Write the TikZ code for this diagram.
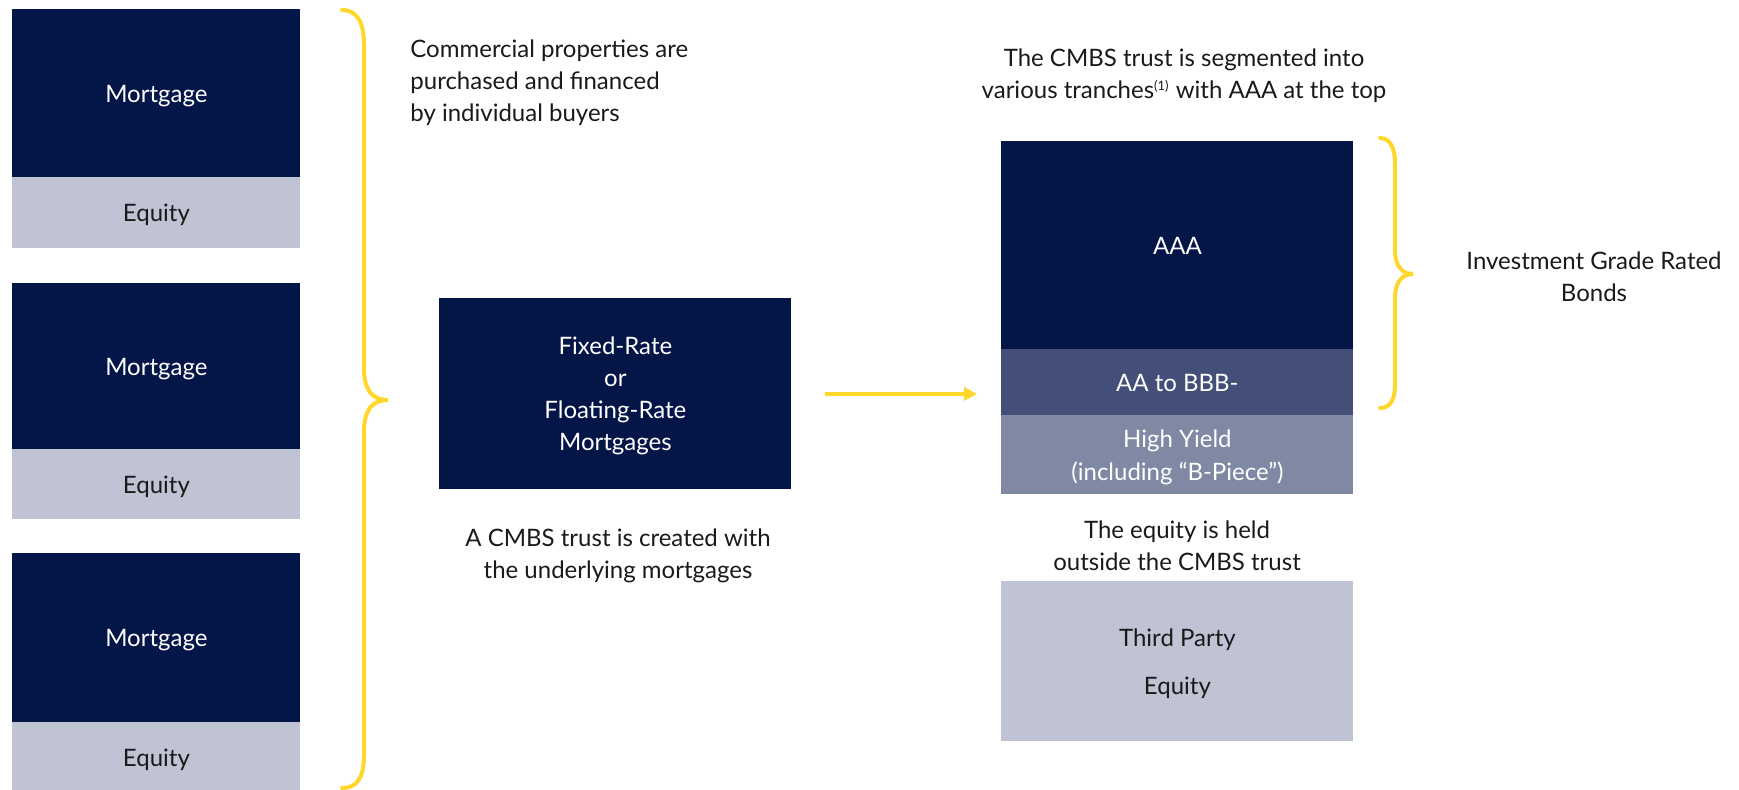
\documentclass[tikz,border=0pt]{standalone}
\usepackage{fontspec}
\setmainfont{Lato}
\usetikzlibrary{arrows.meta}
\definecolor{navy}{HTML}{041547}
\definecolor{midblue}{HTML}{434F78}
\definecolor{greyblue}{HTML}{8089A4}
\definecolor{lightgrey}{HTML}{C0C3D3}
\definecolor{gold}{HTML}{FFD72B}
\definecolor{ink}{HTML}{1A1A1A}
\tikzset{
  blk/.style={rectangle, draw=none, anchor=north west, inner sep=0pt, align=center, text depth=0pt, font=\fontsize{12pt}{16pt}\selectfont},
  mort/.style={blk, fill=navy, text=white, minimum width=144pt},
  eqt/.style={blk, fill=lightgrey, text=ink, minimum width=144pt},
  caption/.style={align=center, text=ink, inner sep=0pt, font=\fontsize{12pt}{16pt}\selectfont},
  brace/.style={draw=gold, line width=2pt, line cap=round},
  flow/.style={draw=gold, line width=1.6pt, -{Triangle[length=6.5pt,width=6.5pt]}}
}
\begin{document}
\begin{tikzpicture}[x=0.5pt, y=-0.5pt]
\useasboundingbox (0,0) rectangle (1739,789);
% left stacks
\node[mort, minimum height=84pt] (m1) at (12,9) {Mortgage};
\node[eqt, minimum height=35.5pt] (e1) at (12,177) {Equity};
\node[mort, minimum height=83pt] (m2) at (12,283) {Mortgage};
\node[eqt, minimum height=35pt] (e2) at (12,449) {Equity};
\node[mort, minimum height=84.5pt] (m3) at (12,553) {Mortgage};
\node[eqt, minimum height=35pt] (e3) at (12,722) {Equity};
% brace 1
\draw[brace] (342,10) .. controls (357,10) and (364,22) .. (364,45)
  -- (364,368) .. controls (364,390) and (372,400) .. (388,400)
  .. controls (372,400) and (364,410) .. (364,432)
  -- (364,755) .. controls (364,778) and (357,788) .. (342,788);
\node[caption, anchor=west, align=left] (t1) at (410,83) {Commercial properties are\\purchased and financed\\by individual buyers};
% middle
\node[blk, fill=navy, text=white, minimum width=176pt, minimum height=95.5pt] (fx) at (439,298) {Fixed-Rate\\or\\Floating-Rate\\Mortgages};
\node[caption] (t2) at (618,556) {A CMBS trust is created with\\the underlying mortgages};
% right stack
\node[blk, fill=navy, text=white, minimum width=176pt, minimum height=104pt] (aaa) at (1001,141) {AAA};
\node[blk, fill=midblue, text=white, minimum width=176pt, minimum height=33pt] (aa) at (1001,349) {AA to BBB-};
\node[blk, fill=greyblue, text=white, minimum width=176pt, minimum height=39.5pt, font=\fontsize{12pt}{16.5pt}\selectfont] (hy) at (1001,415) {High Yield\\(including “B-Piece”)};
\node[caption] (t3) at (1177,546) {The equity is held\\outside the CMBS trust};
\node[blk, fill=lightgrey, text=ink, minimum width=176pt, minimum height=80pt, font=\fontsize{12pt}{24pt}\selectfont] (tp) at (1001,581) {Third Party\\Equity};
\node[caption] (t4) at (1184,76) {The CMBS trust is segmented into\\various tranches\textsuperscript{\fontsize{6.5pt}{6.5pt}\selectfont(1)} with AAA at the top};
% brace 2
\draw[brace] (1380,138) .. controls (1390,138) and (1395,148) .. (1395,163)
  -- (1395,250) .. controls (1395,266) and (1402,274) .. (1413,274)
  .. controls (1402,274) and (1395,282) .. (1395,298)
  -- (1395,385) .. controls (1395,400) and (1390,408) .. (1380,408);
\node[caption] (t5) at (1594,277) {Investment Grade Rated\\Bonds};
% arrow
\draw[flow, shorten <=16.5pt, shorten >=12pt] (fx.east) -- (fx.east -| aa.west);
\end{tikzpicture}
\end{document}
